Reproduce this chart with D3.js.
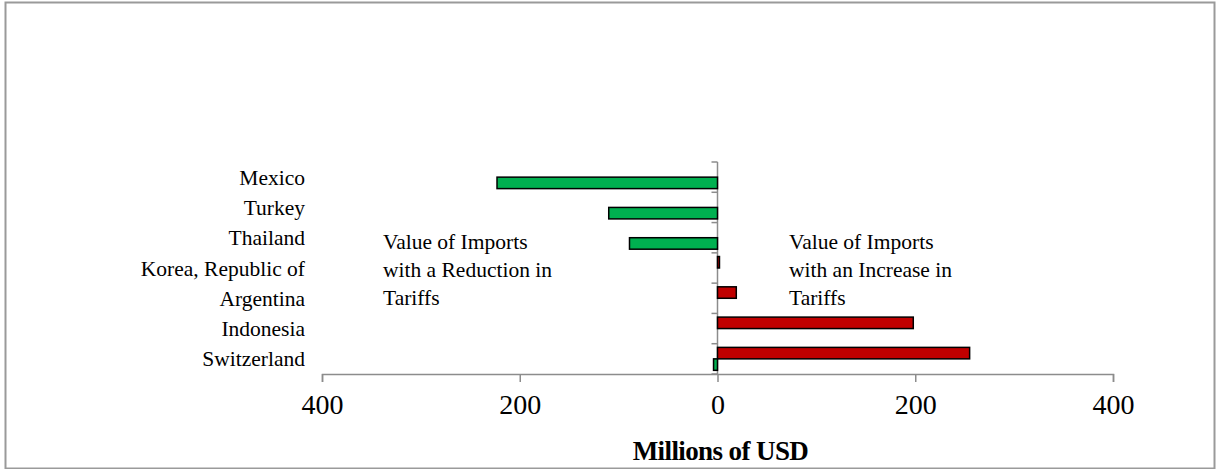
<!DOCTYPE html>
<html>
<head>
<meta charset="utf-8">
<script src="https://cdn.jsdelivr.net/npm/d3@7"></script>
<style>
  html, body { margin: 0; padding: 0; background: #fff; }
  svg { display: block; }
</style>
</head>
<body>
<svg id="chart" width="1216" height="469"></svg>
<script>
// Countries, top to bottom
const countries = ["Mexico", "Turkey", "Thailand", "Korea, Republic of", "Argentina", "Indonesia", "Switzerland"];
// Value of imports with a tariff increase (millions of USD)
const increaseValues = [0, 0, 0, 2, 19, 198, 255];
// Value of imports with a tariff reduction (millions of USD, negative = left of zero)
const reductionValues = [-223, -110, -89, 0, 0, 0, -4];
const xTicks = [-400, -200, 0, 200, 400];
const leftNote = ["Value of Imports", "with a Reduction in", "Tariffs"];
const rightNote = ["Value of Imports", "with an Increase in", "Tariffs"];

const SERIF = "'Liberation Serif', 'Times New Roman', serif";
const svg = d3.select("#chart");

// outer frame
svg.append("rect")
  .attr("x", 5.5).attr("y", 2.5)
  .attr("width", 1209).attr("height", 466)
  .attr("fill", "none").attr("stroke", "#9a9a9a").attr("stroke-width", 2);

const x = d3.scaleLinear().domain([-400, 400]).range([322, 1113]);
const y = d3.scaleBand().domain(countries).range([162, 374]);
const sub = d3.scaleBand().domain(["inc", "dec"]).range([0, y.bandwidth()]).paddingInner(0).paddingOuter(0.32);

const axisColor = "#8c8c8c";

// horizontal axis
const xAxis = svg.append("g").attr("transform", "translate(0,374)")
  .call(d3.axisBottom(x).tickValues(xTicks).tickSize(8).tickPadding(12)
    .tickFormat(d => Math.abs(d)));
xAxis.select(".domain").attr("stroke", axisColor).attr("stroke-width", 1.5);
xAxis.selectAll(".tick line").attr("stroke", axisColor).attr("stroke-width", 1.5);
xAxis.selectAll(".tick text")
  .style("font-family", SERIF).style("font-size", "28px").attr("fill", "#000");

// vertical axis at zero with ticks on category boundaries
const yAxisG = svg.append("g");
yAxisG.append("line")
  .attr("x1", x(0)).attr("x2", x(0))
  .attr("y1", y.range()[0]).attr("y2", y.range()[1])
  .attr("stroke", axisColor).attr("stroke-width", 1.5);
const bounds = countries.map(c => y(c)).concat([y.range()[1]]);
yAxisG.selectAll("line.tk").data(bounds).join("line")
  .attr("class", "tk")
  .attr("x1", x(0) - 6).attr("x2", x(0))
  .attr("y1", d => d).attr("y2", d => d)
  .attr("stroke", axisColor).attr("stroke-width", 1.5);

// category labels
svg.append("g").selectAll("text").data(countries).join("text")
  .attr("x", 305)
  .attr("y", d => y(d) + y.bandwidth() / 2)
  .attr("dy", "0.35em")
  .attr("text-anchor", "end")
  .style("font-family", SERIF).style("font-size", "21.5px")
  .text(d => d);

// bars
function drawBars(values, key, color) {
  svg.append("g").selectAll("rect")
    .data(countries.map((c, i) => ({ c, v: values[i] })).filter(d => d.v !== 0))
    .join("rect")
    .attr("x", d => Math.min(x(0), x(d.v)))
    .attr("width", d => Math.abs(x(d.v) - x(0)))
    .attr("y", d => y(d.c) + sub(key))
    .attr("height", sub.bandwidth())
    .attr("fill", color)
    .attr("stroke", "#000").attr("stroke-width", 1.5);
}
drawBars(increaseValues, "inc", "#c00000");
drawBars(reductionValues, "dec", "#00b050");

// annotations
function note(lines, x0) {
  const t = svg.append("text").attr("x", x0).attr("y", 249)
    .style("font-family", SERIF).style("font-size", "21.5px");
  lines.forEach((l, i) => t.append("tspan").attr("x", x0).attr("dy", i === 0 ? 0 : 28).text(l));
}
note(leftNote, 383);
note(rightNote, 789);

// axis title
svg.append("text")
  .attr("x", x(0) + 3).attr("y", 460)
  .attr("text-anchor", "middle")
  .style("font-family", SERIF).style("font-size", "27px").style("font-weight", "bold")
  .attr("letter-spacing", -0.6)
  .text("Millions of USD");
</script>
</body>
</html>
